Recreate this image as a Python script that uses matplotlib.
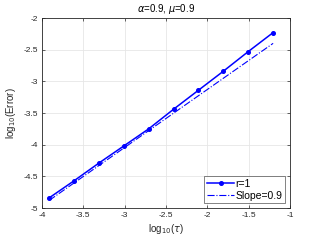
import numpy as np
import matplotlib
matplotlib.use('Agg')
import matplotlib.pyplot as plt

# log10(tau) for tau = 2^-13 ... 2^-4
log_tau = [-3.913, -3.612, -3.311, -3.010, -2.709, -2.408, -2.107, -1.806, -1.505, -1.204]
log_err = [-4.84, -4.57, -4.29, -4.02, -3.75, -3.44, -3.14, -2.84, -2.53, -2.23]
# reference slope line (endpoints)
slope_x = [-3.913, -1.204]
slope_y = [-4.88, -2.40]

plt.rcParams['font.family'] = ['Liberation Sans', 'DejaVu Sans']
plt.rcParams['mathtext.fontset'] = 'dejavusans'

fig = plt.figure(figsize=(3.21, 2.41), dpi=100)
ax = fig.add_axes([42 / 321, 1 - 208 / 241, 248 / 321, 190 / 241])

ax.plot(log_tau, log_err, '-', color='#0000ff', lw=1.1, marker='o', ms=2.6, label='r=1')
ax.plot(slope_x, slope_y, '-.', color='#0000ff', lw=0.8, label='Slope=0.9')

ax.set_xlim(-4, -1)
ax.set_ylim(-5, -2)
ax.set_xticks([-4, -3.5, -3, -2.5, -2, -1.5, -1])
ax.set_xticklabels(['-4', '-3.5', '-3', '-2.5', '-2', '-1.5', '-1'])
ax.set_yticks([-5, -4.5, -4, -3.5, -3, -2.5, -2])
ax.set_yticklabels(['-5', '-4.5', '-4', '-3.5', '-3', '-2.5', '-2'])
ax.grid(True, color='#e6e6e6', lw=0.6)
ax.set_axisbelow(True)
ax.tick_params(direction='in', length=2.5, width=0.5, labelsize=6, colors='#262626', pad=3,
               top=True, right=True)
for s in ax.spines.values():
    s.set_linewidth(0.6)
    s.set_color('#262626')

ax.set_xlabel(r'log$_{10}$($\tau$)', fontsize=7, color='#262626', labelpad=2)
ax.set_ylabel(r'log$_{10}$(Error)', fontsize=7, color='#262626', labelpad=4)
ax.set_title(r'$\alpha$=0.9, $\mu$=0.9', fontsize=7, pad=4)

leg = ax.legend(loc='lower right', fontsize=7.5, frameon=True, fancybox=False,
                edgecolor='#262626', borderpad=0.25, handlelength=2.6, handletextpad=0.15,
                labelspacing=0.2, borderaxespad=0.45)
leg.get_frame().set_linewidth(0.5)

fig.savefig('out.png', dpi=100)
